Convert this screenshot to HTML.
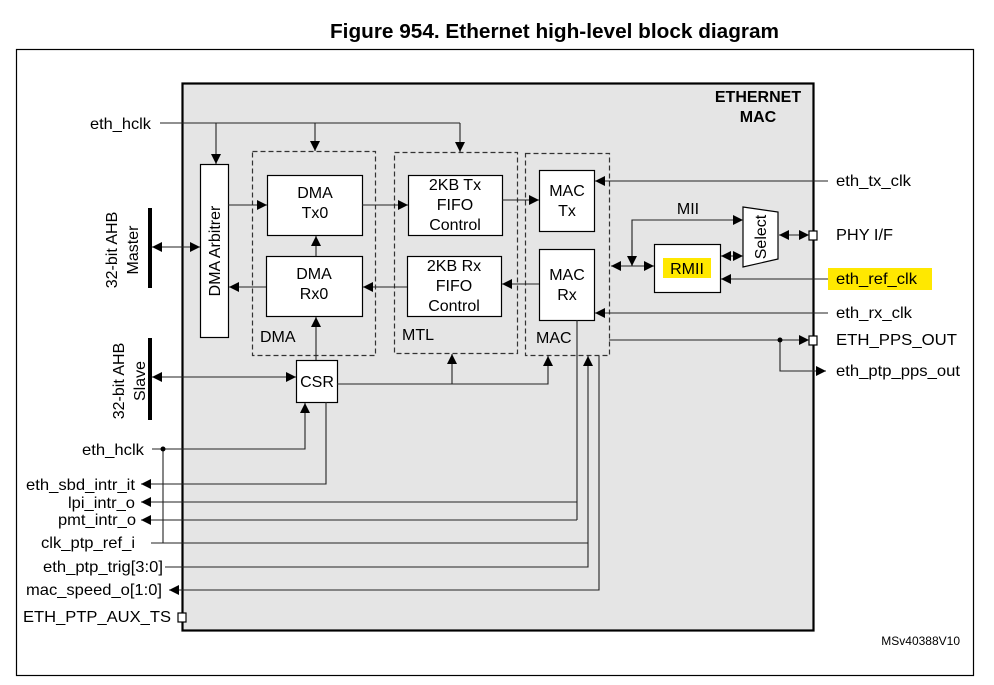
<!DOCTYPE html>
<html><head><meta charset="utf-8"><style>
html,body{margin:0;padding:0;background:#fff;}
svg{display:block;}
text{font-family:"Liberation Sans",Arial,sans-serif;fill:#000;}
</style></head><body>
<svg width="994" height="685" viewBox="0 0 994 685" xmlns="http://www.w3.org/2000/svg">
<defs>
<marker id="a" viewBox="0 0 10 10" refX="10" refY="5" markerWidth="10" markerHeight="10" markerUnits="userSpaceOnUse" orient="auto"><path d="M0,0 L10,5 L0,10 z" fill="#000"/></marker>
<marker id="s" viewBox="0 0 10 10" refX="0" refY="5" markerWidth="10" markerHeight="10" markerUnits="userSpaceOnUse" orient="auto"><path d="M10,0 L0,5 L10,10 z" fill="#000"/></marker>
</defs>
<text x="330" y="38" font-size="20" font-weight="bold" textLength="449" lengthAdjust="spacingAndGlyphs">Figure 954. Ethernet high-level block diagram</text>
<rect x="16.5" y="49.5" width="957" height="626" fill="#fff" stroke="#000" stroke-width="1.2"/>
<rect x="182.5" y="83.5" width="631" height="547" fill="#e5e5e5" stroke="#000" stroke-width="2.2"/>
<text x="758" y="102" font-size="16" font-weight="bold" text-anchor="middle">ETHERNET</text>
<text x="758" y="122" font-size="16" font-weight="bold" text-anchor="middle">MAC</text>

<g fill="none" stroke="#333" stroke-width="1.2" stroke-dasharray="5,3">
<rect x="252.5" y="151.5" width="123" height="204"/>
<rect x="394.5" y="152.5" width="123" height="201"/>
<rect x="525.5" y="153.5" width="84" height="202"/>
</g>
<g fill="#fff" stroke="#000" stroke-width="1.2">
<rect x="200.5" y="164.5" width="28" height="173"/>
<rect x="267.5" y="175.5" width="95" height="60"/>
<rect x="266.5" y="256.5" width="96" height="60"/>
<rect x="408.5" y="175.5" width="94" height="60"/>
<rect x="407.5" y="256.5" width="94" height="60"/>
<rect x="539.5" y="170.5" width="55" height="61"/>
<rect x="539.5" y="249.5" width="55" height="71"/>
<rect x="296.5" y="360.5" width="41" height="42"/>
<rect x="654.5" y="244.5" width="66" height="48"/>
<path d="M743,207 L778,212 L778,259 L743,267 z"/>
<rect x="809" y="231" width="8" height="9"/>
<rect x="809" y="336" width="8" height="9"/>
<rect x="178" y="613" width="8" height="9"/>
</g>
<rect x="828" y="268" width="104" height="22" fill="#ffe800"/>
<rect x="663" y="258" width="48" height="20" fill="#ffe800"/>

<g font-size="16" text-anchor="middle">
<text transform="translate(220,251) rotate(-90)">DMA Arbitrer</text>
<text x="315" y="198">DMA</text><text x="315" y="218">Tx0</text>
<text x="314" y="279">DMA</text><text x="314" y="299">Rx0</text>
<text x="455" y="190">2KB Tx</text><text x="455" y="210">FIFO</text><text x="455" y="230">Control</text>
<text x="454" y="271">2KB Rx</text><text x="454" y="291">FIFO</text><text x="454" y="311">Control</text>
<text x="567" y="196">MAC</text><text x="567" y="216">Tx</text>
<text x="567" y="280">MAC</text><text x="567" y="300">Rx</text>
<text x="317" y="387">CSR</text>
<text x="687" y="274">RMII</text>
<text transform="translate(766,237) rotate(-90)">Select</text>
<text x="688" y="214">MII</text>
<text transform="translate(117,250) rotate(-90)">32-bit AHB</text>
<text transform="translate(138,250) rotate(-90)">Master</text>
<text transform="translate(124,381) rotate(-90)">32-bit AHB</text>
<text transform="translate(145,381) rotate(-90)">Slave</text>
</g>
<g font-size="16">
<text x="260" y="342">DMA</text>
<text x="402" y="340">MTL</text>
<text x="536" y="343">MAC</text>
<text x="836" y="186" textLength="75" lengthAdjust="spacingAndGlyphs">eth_tx_clk</text>
<text x="836" y="240" textLength="57" lengthAdjust="spacingAndGlyphs">PHY I/F</text>
<text x="836" y="284" textLength="81" lengthAdjust="spacingAndGlyphs">eth_ref_clk</text>
<text x="836" y="318" textLength="76" lengthAdjust="spacingAndGlyphs">eth_rx_clk</text>
<text x="836" y="345" textLength="121" lengthAdjust="spacingAndGlyphs">ETH_PPS_OUT</text>
<text x="836" y="376" textLength="124" lengthAdjust="spacingAndGlyphs">eth_ptp_pps_out</text>
<text x="90" y="129" textLength="61" lengthAdjust="spacingAndGlyphs">eth_hclk</text>
<text x="82" y="455" textLength="62" lengthAdjust="spacingAndGlyphs">eth_hclk</text>
<text x="26" y="490" textLength="109" lengthAdjust="spacingAndGlyphs">eth_sbd_intr_it</text>
<text x="68" y="508" textLength="67" lengthAdjust="spacingAndGlyphs">lpi_intr_o</text>
<text x="58" y="525" textLength="78" lengthAdjust="spacingAndGlyphs">pmt_intr_o</text>
<text x="41" y="548" textLength="94" lengthAdjust="spacingAndGlyphs">clk_ptp_ref_i</text>
<text x="43" y="572" textLength="120" lengthAdjust="spacingAndGlyphs">eth_ptp_trig[3:0]</text>
<text x="26" y="595" textLength="136" lengthAdjust="spacingAndGlyphs">mac_speed_o[1:0]</text>
<text x="23" y="622" textLength="148" lengthAdjust="spacingAndGlyphs">ETH_PTP_AUX_TS</text>
</g>
<text x="960" y="645" font-size="12" text-anchor="end">MSv40388V10</text>

<g stroke="#000" stroke-width="4" fill="none">
<line x1="150" y1="208" x2="150" y2="288"/>
<line x1="150" y1="338" x2="150" y2="420"/>
</g>
<g stroke="#222" stroke-width="1.1" fill="none">
<path d="M160,123 H460"/>
<path d="M216,123 V164" marker-end="url(#a)"/>
<path d="M315,123 V151" marker-end="url(#a)"/>
<path d="M460,123 V152" marker-end="url(#a)"/>
<path d="M152,247 H200" marker-start="url(#s)" marker-end="url(#a)"/>
<path d="M152,377 H296" marker-start="url(#s)" marker-end="url(#a)"/>
<path d="M228,205 H267" marker-end="url(#a)"/>
<path d="M266,287 H229" marker-end="url(#a)"/>
<path d="M362,205 H408" marker-end="url(#a)"/>
<path d="M502,200 H539" marker-end="url(#a)"/>
<path d="M539,284 H502" marker-end="url(#a)"/>
<path d="M407,287 H363" marker-end="url(#a)"/>
<path d="M316,256 V236" marker-end="url(#a)"/>
<path d="M316,360 V317" marker-end="url(#a)"/>
<path d="M337,384 H548 V356" marker-end="url(#a)"/>
<path d="M452,384 V354" marker-end="url(#a)"/>
<path d="M152,449 H305 V403" marker-end="url(#a)"/>
<path d="M163,449 V543"/>
<path d="M326,402 V484 H141" marker-end="url(#a)"/>
<path d="M577,320 V520"/>
<path d="M577,502 H141" marker-end="url(#a)"/>
<path d="M577,520 H141" marker-end="url(#a)"/>
<path d="M151,543 H588"/>
<path d="M165,567 H588 V356" marker-end="url(#a)"/>
<path d="M599,356 V590 H169" marker-end="url(#a)"/>
<path d="M828,181 H595" marker-end="url(#a)"/>
<path d="M828,313 H595" marker-end="url(#a)"/>
<path d="M828,279 H721" marker-end="url(#a)"/>
<path d="M611,266 H654" marker-start="url(#s)" marker-end="url(#a)"/>
<path d="M632,266 V220 H743" marker-end="url(#a)"/>
<path d="M632,240 V266" marker-end="url(#a)"/>
<path d="M721,256 H743" marker-start="url(#s)" marker-end="url(#a)"/>
<path d="M779,235 H809" marker-start="url(#s)" marker-end="url(#a)"/>
<path d="M609,340 H809" marker-end="url(#a)"/>
<path d="M780,340 V371 H826" marker-end="url(#a)"/>
</g>
<circle cx="163" cy="449" r="2.5" fill="#000"/>
<circle cx="780" cy="340" r="2.5" fill="#000"/>
</svg>
</body></html>
